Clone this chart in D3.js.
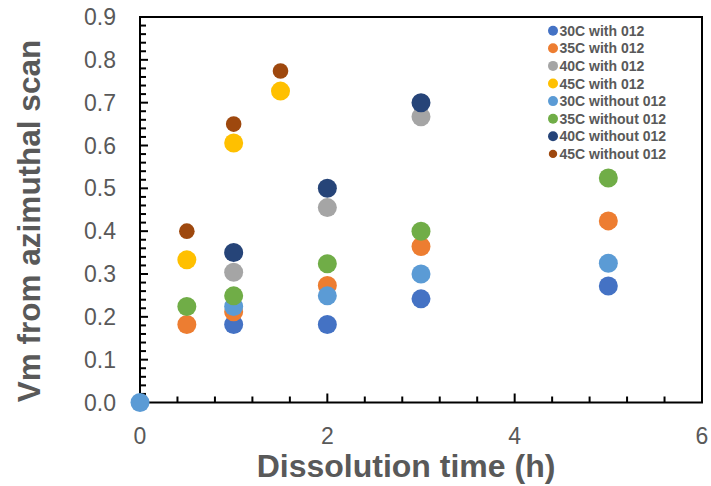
<!DOCTYPE html>
<html><head><meta charset="utf-8">
<script src="https://cdn.jsdelivr.net/npm/d3@7"></script>
<style>body{margin:0;background:#fff}svg{display:block}text{font-family:Arial,"Liberation Sans",sans-serif}</style>
</head><body><svg id="c" width="711" height="486"></svg>
<script>
const seriesNames = ["30C with 012","35C with 012","40C with 012","45C with 012","30C without 012","35C without 012","40C without 012","45C without 012"];
const seriesColors = ["#4472C4","#ED7D31","#A5A5A5","#FFC000","#5B9BD5","#70AD47","#264478","#9E480E"];
const s30with_x = [1, 2, 3, 5];
const s30with_y = [0.182, 0.182, 0.242, 0.272];
const s35with_x = [0.5, 1, 2, 3, 5];
const s35with_y = [0.182, 0.212, 0.273, 0.364, 0.424];
const s40with_x = [1, 2, 3];
const s40with_y = [0.304, 0.455, 0.667];
const s45with_x = [0.5, 1, 1.5];
const s45with_y = [0.333, 0.606, 0.727];
const s30without_x = [0, 1, 2, 3, 5];
const s30without_y = [0, 0.224, 0.249, 0.300, 0.325];
const s35without_x = [0.5, 1, 2, 3, 5];
const s35without_y = [0.224, 0.249, 0.324, 0.400, 0.524];
const s40without_x = [1, 2, 3];
const s40without_y = [0.350, 0.500, 0.700];
const s45without_x = [0.5, 1, 1.5];
const s45without_y = [0.400, 0.650, 0.774];
const xTicks = [0, 2, 4, 6];
const yTicks = [0, 0.1, 0.2, 0.3, 0.4, 0.5, 0.6, 0.7, 0.8, 0.9];

const allX = [s30with_x,s35with_x,s40with_x,s45with_x,s30without_x,s35without_x,s40without_x,s45without_x];
const allY = [s30with_y,s35with_y,s40with_y,s45with_y,s30without_y,s35without_y,s40without_y,s45without_y];
const radii = [9.5,9.5,9.5,9.5,9.5,9.5,9.5,7.8];

const svg = d3.select("#c");
const L=140, R=702, T=17, B=402.5;
const x = d3.scaleLinear().domain([0,6]).range([L,R]);
const y = d3.scaleLinear().domain([0,0.9]).range([B,T]);
const txt = "#595959";

// frame
svg.append("rect").attr("x",L).attr("y",T).attr("width",R-L).attr("height",B-T)
  .attr("fill","none").attr("stroke","#000").attr("stroke-width",2);

// ticks (inside)
const yMinor = d3.range(0, 0.9001, 0.02);
svg.append("g").selectAll("line").data(yMinor).join("line")
  .attr("x1",L).attr("x2",d=> (Math.abs(Math.round(d*10)-d*10)<1e-6)?L+8:L+6)
  .attr("y1",d=>y(d)).attr("y2",d=>y(d)).attr("stroke","#000").attr("stroke-width",2);
const xMinor = d3.range(0, 6.0001, 0.4);
svg.append("g").selectAll("line").data(xMinor).join("line")
  .attr("x1",d=>x(d)).attr("x2",d=>x(d))
  .attr("y1",B).attr("y2",d=> (Math.abs(d/2-Math.round(d/2))<1e-6)?B-9:B-6)
  .attr("stroke","#000").attr("stroke-width",2);

// tick labels
svg.append("g").selectAll("text").data(yTicks).join("text")
  .attr("x",L-24).attr("y",d=>y(d)).attr("dy","0.35em").attr("text-anchor","end")
  .attr("font-size",23).attr("fill",txt).text(d=>d.toFixed(1));
svg.append("g").selectAll("text").data(xTicks).join("text")
  .attr("x",d=>x(d)).attr("y",444).attr("text-anchor","middle")
  .attr("font-size",23).attr("fill",txt).text(d=>d);

// titles
svg.append("text").attr("x",406).attr("y",477).attr("text-anchor","middle")
  .attr("font-size",32).attr("font-weight","bold").attr("fill",txt).text("Dissolution time (h)");
svg.append("text").attr("transform","translate(40,221) rotate(-90)").attr("text-anchor","middle")
  .attr("font-size",31.5).attr("font-weight","bold").attr("fill",txt).text("Vm from azimuthal scan");

// points
seriesNames.forEach((n,i)=>{
  const pts = allX[i].map((v,j)=>[v, allY[i][j]]);
  svg.append("g").selectAll("circle").data(pts).join("circle")
    .attr("cx",d=>x(d[0])).attr("cy",d=>y(d[1])).attr("r",radii[i])
    .attr("fill",seriesColors[i]);
});

// legend
const lg = svg.append("g");
seriesNames.forEach((n,i)=>{
  const yy = 30.7 + i*17.6;
  lg.append("circle").attr("cx",553).attr("cy",yy).attr("r",i===7?4.2:5).attr("fill",seriesColors[i]);
  lg.append("text").attr("x",559.5).attr("y",yy).attr("dy","0.36em").attr("font-size",14)
    .attr("font-weight","bold").attr("fill",txt).text(n);
});
</script></body></html>
